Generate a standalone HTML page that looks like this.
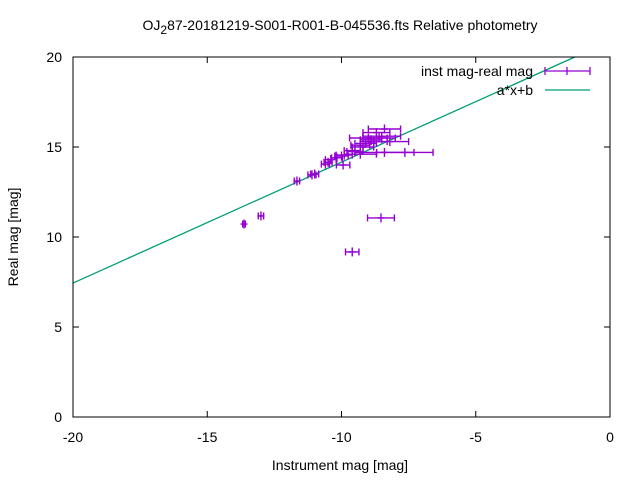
<!DOCTYPE html>
<html><head><meta charset="utf-8"><style>
body{margin:0;background:#fff}
svg{display:block;font-family:"Liberation Sans",sans-serif}
</style></head><body>
<svg id="chart" width="640" height="480">
<rect width="640" height="480" fill="#fff"/>
<text x="340" y="30" font-size="14" text-anchor="middle">OJ<tspan dy="4" font-size="12">2</tspan><tspan dy="-4">87-20181219-S001-R001-B-045536.fts Relative photometry</tspan></text>
<g id="axes"></g>
<g id="series"></g>
<rect x="73" y="57" width="537" height="360" fill="none" stroke="#000" stroke-width="1"/>
<text x="340" y="470" font-size="14" text-anchor="middle">Instrument mag [mag]</text>
<text transform="translate(18,237) rotate(-90)" font-size="14" text-anchor="middle">Real mag [mag]</text>
<g>
<text x="533" y="76" font-size="14" text-anchor="end">inst mag-real mag</text>
<g stroke="#9400d3" stroke-width="1.3"><line x1="545" y1="71" x2="590" y2="71"/><line x1="545" y1="67" x2="545" y2="75"/><line x1="590" y1="67" x2="590" y2="75"/><line x1="567" y1="67" x2="567" y2="75"/></g>
<text x="533" y="95" font-size="14" text-anchor="end">a*x+b</text>
<line x1="545" y1="90" x2="590" y2="90" stroke="#009e73" stroke-width="1.3"/>
</g>
</svg>
<script>
const xTicks=[-20,-15,-10,-5,0];
const yTicks=[0,5,10,15,20];
const instMag=[-13.63,-13.0,-11.66,-11.1,-11.0,-10.6,-10.5,-10.4,-10.17,-10.0,-9.9,-9.94,-9.6,-9.5,-9.3,-9.2,-9.1,-8.9,-8.8,-8.7,-8.6,-8.4,-8.5,-8.4,-9.3,-9.0,-8.2,-8.53,-9.6,-7.64];
const realMag=[10.72,11.17,13.11,13.45,13.5,14.05,14.15,14.3,14.4,14.5,14.55,14.0,14.8,14.75,15.1,15.0,15.2,15.4,15.3,15.8,15.5,16.0,15.6,14.7,14.6,15.5,15.3,11.06,9.17,14.7];
const xErr=[0.05,0.1,0.1,0.15,0.15,0.15,0.15,0.2,0.2,0.25,0.3,0.25,0.3,0.3,0.35,0.4,0.4,0.4,0.5,0.5,0.6,0.6,0.7,1.1,0.6,0.7,0.7,0.5,0.25,1.05];
const fitA=0.672, fitB=20.88;
const X=v=>73+(v+20)*537/20, Y=v=>417-v*360/20;
const NS="http://www.w3.org/2000/svg";
const ax=document.getElementById('axes'), se=document.getElementById('series');
function mk(t,a,p){const e=document.createElementNS(NS,t);for(const k in a)e.setAttribute(k,a[k]);p.appendChild(e);return e;}
xTicks.forEach(t=>{const l=mk('line',{x1:X(t),x2:X(t),y1:417,y2:411,stroke:'#000'},ax);


mk('line',{x1:X(t),x2:X(t),y1:57,y2:63,stroke:'#000'},ax);
const tx=mk('text',{x:X(t),y:442,'font-size':14,'text-anchor':'middle'},ax);tx.textContent=t;

});
yTicks.forEach(t=>{const l=mk('line',{x1:73,x2:79,y1:Y(t),y2:Y(t),stroke:'#000'},ax);


mk('line',{x1:604,x2:610,y1:Y(t),y2:Y(t),stroke:'#000'},ax);
const tx=mk('text',{x:62,y:Y(t)+5,'font-size':14,'text-anchor':'end'},ax);tx.textContent=t;

});
const xEnd=(20-fitB)/fitA;
const fl=mk('line',{x1:X(-20),y1:Y(fitA*-20+fitB),x2:X(xEnd),y2:Y(20),stroke:'#009e73','stroke-width':1.3},se);


instMag.forEach((x,i)=>{const g=mk('g',{stroke:'#9400d3','stroke-width':1.4},se);


const cx=X(x),cy=Y(realMag[i]),x1=X(x-xErr[i]),x2=X(x+xErr[i]);
mk('line',{x1:x1,x2:x2,y1:cy,y2:cy},g);
mk('line',{x1:x1,x2:x1,y1:cy-3.5,y2:cy+3.5},g);
mk('line',{x1:x2,x2:x2,y1:cy-3.5,y2:cy+3.5},g);
mk('line',{x1:cx,x2:cx,y1:cy-4.5,y2:cy+4.5},g);
mk('line',{x1:cx-3.5,x2:cx+3.5,y1:cy,y2:cy},g);});
</script>
</body></html>
